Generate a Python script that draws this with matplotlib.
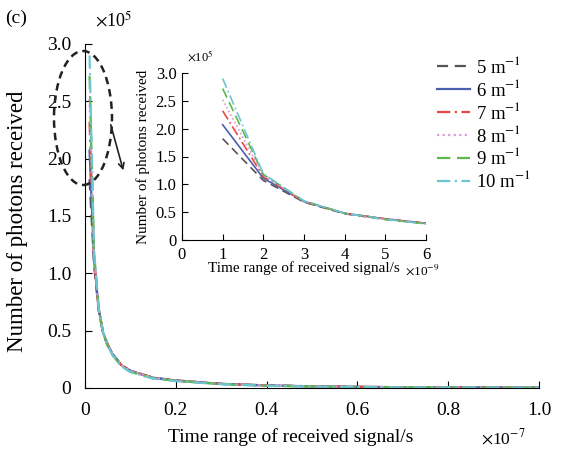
import numpy as np
import matplotlib
matplotlib.use("Agg")
import matplotlib.pyplot as plt
from matplotlib.patches import Ellipse

plt.rcParams['font.family'] = ['Liberation Serif', 'DejaVu Serif']
plt.rcParams['mathtext.fontset'] = 'stix'

# time of received signal, ns
t_ns = [1, 2, 3, 4, 5, 6, 8, 10, 15, 20, 30, 40, 50, 60, 70, 80, 90, 100]

# photons received, x1e5, one list per attenuation coefficient
n5 = [1.82, 1.07, 0.68, 0.47, 0.37, 0.30, 0.20, 0.15, 0.09, 0.066, 0.037, 0.023, 0.015, 0.010, 0.007, 0.005, 0.004, 0.003]
n6 = [2.07, 1.11, 0.69, 0.48, 0.38, 0.30, 0.20, 0.15, 0.09, 0.065, 0.036, 0.022, 0.015, 0.010, 0.007, 0.005, 0.004, 0.003]
n7 = [2.32, 1.14, 0.69, 0.48, 0.38, 0.30, 0.20, 0.15, 0.09, 0.065, 0.036, 0.022, 0.014, 0.010, 0.007, 0.005, 0.003, 0.002]
n8 = [2.52, 1.16, 0.70, 0.48, 0.37, 0.30, 0.20, 0.15, 0.09, 0.064, 0.035, 0.021, 0.014, 0.009, 0.006, 0.004, 0.003, 0.002]
n9 = [2.72, 1.18, 0.70, 0.48, 0.37, 0.29, 0.19, 0.14, 0.085, 0.062, 0.034, 0.020, 0.013, 0.009, 0.006, 0.004, 0.003, 0.002]
n10 = [2.90, 1.19, 0.70, 0.48, 0.37, 0.29, 0.19, 0.14, 0.082, 0.060, 0.033, 0.019, 0.012, 0.008, 0.005, 0.004, 0.002, 0.002]

labels = ['5 m$^{-1}$', '6 m$^{-1}$', '7 m$^{-1}$', '8 m$^{-1}$', '9 m$^{-1}$', '10 m$^{-1}$']
series = [n5, n6, n7, n8, n9, n10]
colors = ['#555555', '#4a5fb0', '#e8483f', '#dc9ad6', '#5db84c', '#6cc6d2']
styles = [(0, (5, 3)), '-', (0, (6, 2, 1, 2)), (0, (1, 1.5)), (0, (6, 3)), (0, (6, 2, 1, 2))]

fig = plt.figure(figsize=(5.61, 4.49), dpi=100)
ax = fig.add_axes([85/561, 1 - 388/449, 454/561, 344/449])

x_main = np.array(t_ns) * 1e-9 / 1e-7
for y, c, ls, lab in zip(series, colors, styles, labels):
    ax.plot(x_main, y, color=c, ls=ls, lw=1.6, label=lab)

ax.set_xlim(0, 1.0)
ax.set_ylim(0, 3.0)
ax.set_xticks([0, 0.2, 0.4, 0.6, 0.8, 1.0])
ax.set_xticklabels(['0', '0.2', '0.4', '0.6', '0.8', '1.0'])
ax.set_yticks([0, 0.5, 1.0, 1.5, 2.0, 2.5, 3.0])
ax.set_yticklabels(['0', '0.5', '1.0', '1.5', '2.0', '2.5', '3.0'])
ax.spines['top'].set_visible(False)
ax.spines['right'].set_visible(False)
ax.tick_params(direction='in', labelsize=14, length=5, pad=10)
ax.set_xlabel('Time range of received signal/s', fontsize=14)
ax.xaxis.set_label_coords((291 - 85) / 454, -(437 - 388) / 344)
ax.xaxis.label.set_va('center')
ax.set_ylabel('Number of photons received', fontsize=16.5)
ax.yaxis.set_label_coords(-(85 - 18) / 454, (388 - 221) / 344)
ax.yaxis.label.set_va('center')

fig.text(5/561, 1 - 18/449, '(c)', fontsize=14, va='center')
fig.text(95/561, 1 - 20/449, r'$\times$10$^5$', fontsize=13, va='center')
fig.text(481/561, 1 - 438/449, r'$\times$10$^{-7}$', fontsize=12.5, va='center')

# ellipse + arrow marking the zoomed region
fig.patches.append(Ellipse((83/561, 1 - 118/449), 58/561, 134/449,
                           transform=fig.transFigure, fill=False,
                           ls=(0, (3, 2)), lw=1.8, ec='#222222'))
ax.annotate('', xy=(124/561, 1 - 173/449), xytext=(110/561, 1 - 122/449),
            xycoords='figure fraction', textcoords='figure fraction',
            arrowprops=dict(arrowstyle='->', color='#222222', lw=1.2))

# inset
ins = fig.add_axes([182/561, 1 - 240/449, 244/561, 167/449])
for y, c, ls in zip(series, colors, styles):
    ins.plot(t_ns[:6], y[:6], color=c, ls=ls, lw=1.2)
ins.set_xlim(0, 6)
ins.set_ylim(0, 3.0)
ins.set_xticks([0, 1, 2, 3, 4, 5, 6])
ins.set_yticks([0, 0.5, 1.0, 1.5, 2.0, 2.5, 3.0])
ins.set_yticklabels(['0', '0.5', '1.0', '1.5', '2.0', '2.5', '3.0'])
ins.spines['top'].set_visible(False)
ins.spines['right'].set_visible(False)
ins.tick_params(direction='in', labelsize=12, length=4, pad=4)
ins.tick_params(axis='x', pad=5)
ins.set_xlabel('Time range of received signal/s', fontsize=11, labelpad=-1)
ins.set_ylabel('Number of photons received', fontsize=11, labelpad=4)
fig.text(187/561, 1 - 57/449, r'$\times$10$^5$', fontsize=9, va='center')
fig.text(405/561, 1 - 270/449, r'$\times$10$^{-9}$', fontsize=9.5, va='center')

handles, labs = ax.get_legend_handles_labels()
fig.legend(handles, labs, loc='upper left', bbox_to_anchor=(437/561, 1 - 56/449),
           frameon=False, fontsize=13.5, handlelength=1.75, handletextpad=0.35,
           labelspacing=0.1, borderpad=0, borderaxespad=0)

fig.savefig('out.png', dpi=100)
